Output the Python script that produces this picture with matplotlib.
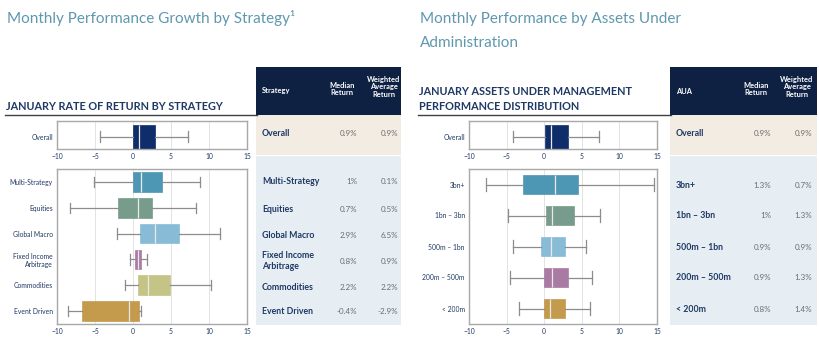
import matplotlib
matplotlib.use('Agg')
import matplotlib.pyplot as plt
from matplotlib.patches import Rectangle

plt.rcParams['font.family'] = ['Lato', 'DejaVu Sans']

W, H = 820, 340

# ---- data ----
strategies = ['Multi-Strategy', 'Equities', 'Global Macro', 'Fixed Income\nArbitrage', 'Commodities', 'Event Driven']
strat_lo = [-5.1, -8.25, -2.15, -0.45, -1.0, -8.6]
strat_q1 = [0.0, -2.0, 0.9, 0.25, 0.6, -6.7]
strat_med = [1.0, 0.7, 2.9, 0.6, 2.0, -0.5]
strat_q3 = [3.8, 2.5, 6.1, 1.05, 4.9, 0.8]
strat_hi = [8.75, 8.3, 11.5, 1.9, 10.3, 1.1]
strat_overall = [-4.3, 0.0, 0.85, 2.95, 7.2]   # lo, q1, med, q3, hi

aua = ['3bn+', '1bn – 3bn', '500m – 1bn', '200m – 500m', '< 200m']
aua_lo = [-7.7, -4.8, -4.2, -4.6, -3.4]
aua_q1 = [-2.8, 0.2, -0.4, 0.0, 0.0]
aua_med = [1.4, 1.0, 0.85, 1.0, 0.75]
aua_q3 = [4.5, 3.9, 2.7, 3.2, 2.7]
aua_hi = [14.6, 7.4, 5.5, 6.3, 6.1]
aua_overall = [-4.1, 0.05, 0.95, 3.1, 7.3]

xticks = [-10, -5, 0, 5, 10, 15]

strat_rows = ['Overall', 'Multi-Strategy', 'Equities', 'Global Macro', 'Fixed Income\nArbitrage', 'Commodities', 'Event Driven']
strat_median_ret = ['0.9%', '1%', '0.7%', '2.9%', '0.8%', '2.2%', '-0.4%']
strat_wavg_ret = ['0.9%', '0.1%', '0.5%', '6.5%', '0.9%', '2.2%', '-2.9%']

aua_rows = ['Overall', '3bn+', '1bn – 3bn', '500m – 1bn', '200m – 500m', '< 200m']
aua_median_ret = ['0.9%', '1.3%', '1%', '0.9%', '0.9%', '0.8%']
aua_wavg_ret = ['0.9%', '0.7%', '1.3%', '0.9%', '1.3%', '1.4%']

# ---- styles ----
navy = '#1f3864'
dark = '#0e2142'
beige = '#f2ece3'
pale = '#e6eef3'
title_c = '#5f98ae'
strat_colors = ['#4d97b5', '#789c8b', '#88bcd6', '#a97aa4', '#c4c487', '#c49a4c']
aua_colors = ['#4d97b5', '#789c8b', '#88bcd6', '#a97aa4', '#c49a4c']
overall_color = '#0f2d6b'

fig = plt.figure(figsize=(W / 100, H / 100), dpi=100)
fig.patch.set_facecolor('white')

bg = fig.add_axes([0, 0, 1, 1])
bg.set_xlim(0, W)
bg.set_ylim(H, 0)
bg.axis('off')


def px_axes(x0, y0, x1, y1):
    return fig.add_axes([x0 / W, 1 - y1 / H, (x1 - x0) / W, (y1 - y0) / H])


def boxes(ax, lo, q1, med, q3, hi, colors, width):
    stats = [dict(whislo=a, q1=b, med=c, q3=d, whishi=e) for a, b, c, d, e in zip(lo, q1, med, q3, hi)]
    bp = ax.bxp(stats, positions=range(len(stats)), widths=width, orientation='horizontal',
                patch_artist=True, showfliers=False, capwidths=0.4,
                whiskerprops=dict(color='#8c8c8c', lw=0.9),
                capprops=dict(color='#8c8c8c', lw=0.9),
                medianprops=dict(color='#e9e9e9', lw=0.9),
                boxprops=dict(lw=0.5))
    for patch, c in zip(bp['boxes'], colors):
        patch.set_facecolor(c)
        patch.set_edgecolor(c)
    ax.set_xlim(-10, 15)
    ax.set_xticks(xticks)
    ax.grid(axis='x', color='#dedede', lw=0.6)
    ax.set_axisbelow(True)
    ax.tick_params(length=0, labelsize=4.9, colors=navy, pad=3)
    for s in ax.spines.values():
        s.set_color('#a8a8a8')
        s.set_linewidth(1)


def panel(x0, x1, lo, q1, med, q3, hi, names, colors, width, overall):
    ax0 = px_axes(x0, 121, x1, 149)
    o = overall
    boxes(ax0, [o[0]], [o[1]], [o[2]], [o[3]], [o[4]], [overall_color], 0.85)
    ax0.set_ylim(0.43, -0.55)
    ax0.set_yticks([0])
    ax0.set_yticklabels(['Overall'])

    ax = px_axes(x0, 169, x1, 324)
    boxes(ax, lo, q1, med, q3, hi, colors, width)
    ax.set_ylim(len(names) - 0.5, -0.5)
    ax.set_yticks(range(len(names)))
    ax.set_yticklabels(names)
    for t in ax.get_yticklabels():
        t.set_linespacing(1.1)


def table(x0, x1, head, rows, meds, wavgs, ys, med_c, wav_c, med_r, wav_r):
    bg.add_patch(Rectangle((x0, 67), x1 - x0, 48, color=dark, lw=0))
    bg.add_patch(Rectangle((x0, 115), x1 - x0, 40, color=beige, lw=0))
    bg.add_patch(Rectangle((x0, 156), x1 - x0, 169, color=pale, lw=0))
    bg.text(x0 + 6, 91, head, color='white', fontsize=5.4, fontweight='bold', va='center')
    bg.text(med_c, 89, 'Median\nReturn', color='white', fontsize=5.4, fontweight='bold',
            va='center', ha='center', linespacing=1.05)
    bg.text(wav_c, 87, 'Weighted\nAverage\nReturn', color='white', fontsize=5.4, fontweight='bold',
            va='center', ha='center', linespacing=1.05)
    for name, m, w, y in zip(rows, meds, wavgs, ys):
        bg.text(x0 + 6, y, name, color=navy, fontsize=6.3, fontweight='bold', va='center', linespacing=1.15)
        bg.text(med_r, y, m, color='#6d6d6d', fontsize=5.8, va='center', ha='right')
        bg.text(wav_r, y, w, color='#6d6d6d', fontsize=5.8, va='center', ha='right')


# titles
bg.text(7, 23, 'Monthly Performance Growth by Strategy\u00b9', color=title_c, fontsize=11, va='baseline')
bg.text(420, 23, 'Monthly Performance by Assets Under', color=title_c, fontsize=11, va='baseline')
bg.text(420, 47, 'Administration', color=title_c, fontsize=11, va='baseline')

bg.text(6, 110, 'JANUARY RATE OF RETURN BY STRATEGY', color=navy, fontsize=7.8, fontweight='bold', va='baseline')
bg.text(419, 95, 'JANUARY ASSETS UNDER MANAGEMENT', color=navy, fontsize=7.8, fontweight='bold', va='baseline')
bg.text(419, 110, 'PERFORMANCE DISTRIBUTION', color=navy, fontsize=7.8, fontweight='bold', va='baseline')
bg.plot([5, 257], [115, 115], color='#404040', lw=1)
bg.plot([418, 671], [115, 115], color='#404040', lw=1)

panel(57, 247, strat_lo, strat_q1, strat_med, strat_q3, strat_hi, strategies, strat_colors, 0.76, strat_overall)
panel(469, 657, aua_lo, aua_q1, aua_med, aua_q3, aua_hi, aua, aua_colors, 0.62, aua_overall)

table(256, 401, 'Strategy', strat_rows, strat_median_ret, strat_wavg_ret,
      [133, 181, 209, 235, 261, 287, 312], 342, 384, 357, 398)
table(670, 817, 'AUA', aua_rows, aua_median_ret, aua_wavg_ret,
      [133, 186, 216, 247, 278, 309], 756, 797, 771, 812)

fig.savefig('out.png', dpi=100)
